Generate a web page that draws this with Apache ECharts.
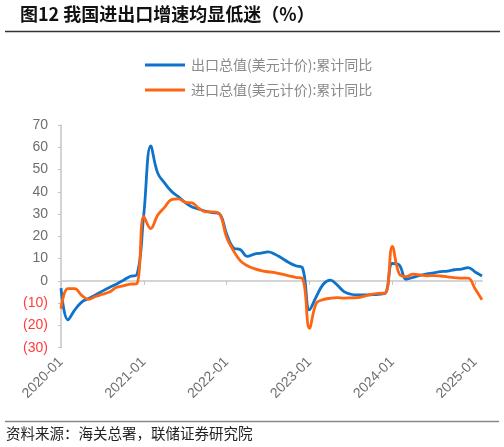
<!DOCTYPE html>
<html>
<head>
<meta charset="utf-8">
<script src="https://cdn.jsdelivr.net/npm/echarts@6/dist/echarts.min.js"></script>
<style>
html,body{margin:0;padding:0;background:#fff;}
#c{width:504px;height:447px;}
</style>
</head>
<body>
<div id="c"></div>
<script>
// categories: monthly 2020-01 .. 2025-02
var months = [];
for (var y = 2020; y <= 2025; y++) {
  for (var m = 1; m <= 12; m++) {
    if (y === 2025 && m > 2) break;
    months.push(y + '-' + (m < 10 ? '0' + m : m));
  }
}
var exportYoY = [
  -3.3, -17.5, -13.0, -9.5, -7.9, -6.3, -4.6, -3.0, -1.5, 0.2, 2.0, 2.8,
  30.0, 60.6, 48.5, 44.0, 40.2, 37.8, 35.2, 33.2, 32.2, 31.2, 30.7, 30.0,
  21.0, 14.8, 14.0, 11.0, 12.0, 12.5, 13.0, 12.0, 10.2, 8.3, 6.8, 5.8,
  -13.0, -7.0, -1.5, 0.3, -1.8, -4.8, -6.0, -6.3, -6.3, -6.2, -6.0, -5.5,
  7.8, 7.1, 0.7, 1.6, 2.5, 3.2, 3.6, 4.2, 4.4, 5.0, 5.3, 6.0,
  4.0, 2.2
];
var importYoY = [
  -12.5, -3.5, -3.5, -6.5, -8.3, -7.0, -6.0, -5.0, -3.0, -2.2, -1.5, -1.2,
  29.0, 23.5, 29.5, 33.0, 36.5, 36.8, 35.3, 35.0, 32.5, 31.0, 31.0, 30.0,
  19.5, 13.5, 9.0, 6.8, 5.5, 4.6, 4.1, 3.7, 3.0, 2.3, 1.6, 1.0,
  -21.3, -10.0, -8.4, -7.8, -7.5, -7.7, -7.6, -7.5, -6.8, -6.0, -5.6, -5.5,
  15.5, 3.2, 1.9, 3.0, 2.7, 2.3, 2.4, 2.2, 1.8, 1.5, 1.2, 1.2,
  -3.5, -8.5
];
var seriesNames = ['出口总值(美元计价):累计同比', '进口总值(美元计价):累计同比'];
var titleText = '图12 我国进出口增速均显低迷（%）';
var sourceText = '资料来源：海关总署，联储证券研究院';

var chart = echarts.init(document.getElementById('c'), null, {renderer: 'canvas'});
var axisFont = '"Liberation Sans", Arial, sans-serif';
var cjk = '"Noto Sans CJK SC", sans-serif';

chart.setOption({
  animation: false,
  backgroundColor: '#fff',
  graphic: [
    {type: 'text', left: 20, top: 5, style: {text: titleText, fill: '#111', fontSize: 18, fontWeight: 'bold', fontFamily: cjk}},
    {type: 'line', shape: {x1: 5, y1: 31.5, x2: 500, y2: 31.5}, style: {stroke: '#333', lineWidth: 1.3}},
    {type: 'line', shape: {x1: 5, y1: 421.5, x2: 499, y2: 421.5}, style: {stroke: '#888', lineWidth: 1.5}},
    {type: 'text', left: 6, top: 426, style: {text: sourceText, fill: '#222', fontSize: 14.5, fontFamily: cjk}}
  ],
  legend: {
    orient: 'vertical',
    left: 145,
    top: 58,
    padding: 0,
    icon: 'rect',
    itemWidth: 40,
    itemHeight: 3,
    itemGap: 11,
    textStyle: {color: '#8a8a8a', fontSize: 14, fontFamily: cjk, padding: [0, 0, 0, 1]},
    data: seriesNames
  },
  grid: {left: 61, right: 22, top: 125, bottom: 99.3, containLabel: false, outerBoundsMode: 'none'},
  xAxis: {
    type: 'category',
    data: months,
    boundaryGap: false,
    axisLine: {onZero: true, lineStyle: {color: '#d4d4d4', width: 2}},
    axisTick: {show: true, interval: 11, length: 4, lineStyle: {color: '#c4c4c4', width: 1}},
    axisLabel: {interval: 11, rotate: 45, margin: 12, color: '#6e6e6e', fontSize: 14, fontFamily: axisFont},
    splitLine: {show: false}
  },
  yAxis: {
    type: 'value',
    min: -30,
    max: 70,
    interval: 10,
    axisLine: {show: true, lineStyle: {color: '#c4c4c4', width: 1.5}},
    axisTick: {show: true, length: 3, lineStyle: {color: '#c4c4c4'}},
    splitLine: {show: false},
    axisLabel: {
      margin: 13,
      fontSize: 14,
      fontFamily: axisFont,
      formatter: function (v) { return v < 0 ? '(' + Math.abs(v) + ')' : String(v); },
      color: function (v) { return Number(v) < 0 ? '#ff3b3b' : '#6e6e6e'; }
    }
  },
  series: [
    {name: seriesNames[0], type: 'line', data: exportYoY, smooth: 0.4, symbol: 'none',
     lineStyle: {color: '#0e73c9', width: 2.8}, itemStyle: {color: '#0e73c9'}, z: 2},
    {name: seriesNames[1], type: 'line', data: importYoY, smooth: 0.4, symbol: 'none',
     lineStyle: {color: '#ff6410', width: 2.8}, itemStyle: {color: '#ff6410'}, z: 3}
  ]
});
</script>
</body>
</html>
